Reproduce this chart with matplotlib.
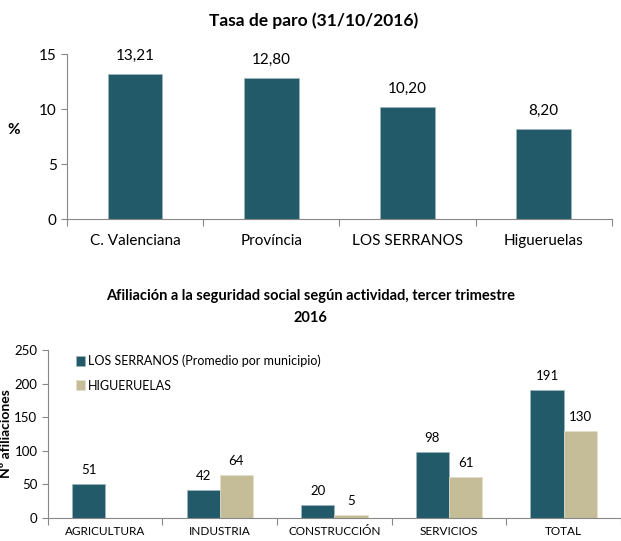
import numpy as np
import matplotlib.pyplot as plt

plt.rcParams['font.family'] = ['Lato', 'DejaVu Sans']

# --- Datos: tasa de paro ---
zonas = ["C. Valenciana", "Província", "LOS SERRANOS", "Higueruelas"]
paro = [13.21, 12.80, 10.20, 8.20]

# --- Datos: afiliación por actividad ---
actividades = ["AGRICULTURA", "INDUSTRIA", "CONSTRUCCIÓN", "SERVICIOS", "TOTAL"]
serranos = [51, 42, 20, 98, 191]
higueruelas = [None, 64, 5, 61, 130]

azul = "#235a69"
beige = "#c4bd97"
gris = "#888888"

fig = plt.figure(figsize=(6.21, 5.41), dpi=100)

# --- Gráfico superior ---
ax1 = fig.add_axes([0.108, 0.595, 0.877, 0.305])
x = np.arange(len(zonas))
ax1.bar(x, paro, width=0.4, color=azul, edgecolor="#9fb6bd", linewidth=0.5)
for xi, v in zip(x, paro):
    ax1.text(xi, v + 1.0, f"{v:.2f}".replace(".", ","), ha="center", va="bottom", fontsize=11)
ax1.set_xlim(-0.5, len(zonas) - 0.5)
ax1.set_ylim(0, 15)
ax1.set_yticks([0, 5, 10, 15])
ax1.set_xticks(np.arange(len(zonas) + 1) - 0.5)
ax1.set_xticklabels([])
ax1.set_xticks(x, minor=True)
ax1.set_xticklabels(zonas, minor=True, fontsize=11)
ax1.tick_params(axis="x", which="minor", length=0, pad=11)
ax1.tick_params(axis="x", which="major", length=5, color=gris)
ax1.tick_params(axis="y", length=4, color=gris, labelsize=11)
ax1.set_ylabel("%", rotation=0, fontsize=11, fontweight="bold", labelpad=18)
for s in ["top", "right"]:
    ax1.spines[s].set_visible(False)
for s in ["left", "bottom"]:
    ax1.spines[s].set_color(gris)
fig.text(0.505, 0.962, "Tasa de paro (31/10/2016)", ha="center", va="center",
         fontsize=12.5, fontweight="bold")

# --- Gráfico inferior ---
ax2 = fig.add_axes([0.077, 0.0425, 0.923, 0.3105])
x2 = np.arange(len(actividades))
w = 0.29
h_vals = [v if v is not None else 0 for v in higueruelas]
ax2.bar(x2 - w / 2, serranos, width=w, color=azul, edgecolor="#9fb6bd", linewidth=0.5,
        label="LOS SERRANOS (Promedio por municipio)")
ax2.bar(x2 + w / 2, h_vals, width=w, color=beige, edgecolor="#e3dfc9", linewidth=0.5,
        label="HIGUERUELAS")
for xi, v in zip(x2, serranos):
    ax2.text(xi - w / 2, v + 12, str(v), ha="center", va="bottom", fontsize=9.5)
for xi, v in zip(x2, higueruelas):
    if v is not None:
        ax2.text(xi + w / 2, v + 12, str(v), ha="center", va="bottom", fontsize=9.5)
ax2.set_xlim(-0.5, len(actividades) - 0.5)
ax2.set_ylim(0, 250)
ax2.set_yticks([0, 50, 100, 150, 200, 250])
ax2.set_xticks(np.arange(len(actividades) + 1) - 0.5)
ax2.set_xticklabels([])
ax2.set_xticks(x2, minor=True)
ax2.set_xticklabels(actividades, minor=True, fontsize=8.5)
ax2.tick_params(axis="x", which="minor", length=0, pad=6)
ax2.tick_params(axis="x", which="major", length=5, color=gris)
ax2.tick_params(axis="y", length=4, color=gris, labelsize=9.5)
ax2.set_ylabel("Nº afiliaciones", fontsize=10, fontweight="bold")
ax2.yaxis.set_label_coords(-0.062, 0.5)
for s in ["top", "right"]:
    ax2.spines[s].set_visible(False)
for s in ["left", "bottom"]:
    ax2.spines[s].set_color(gris)
ax2.legend(loc="upper left", bbox_to_anchor=(0.03, 1.04), frameon=False, fontsize=9,
           handlelength=0.7, handleheight=0.9, handletextpad=0.2, labelspacing=1.0)
fig.text(0.5, 0.433, "Afiliación a la seguridad social según actividad, tercer trimestre\n2016",
         ha="center", va="center", fontsize=10.5, fontweight="bold", linespacing=1.7)

fig.savefig("out.png", dpi=100)
